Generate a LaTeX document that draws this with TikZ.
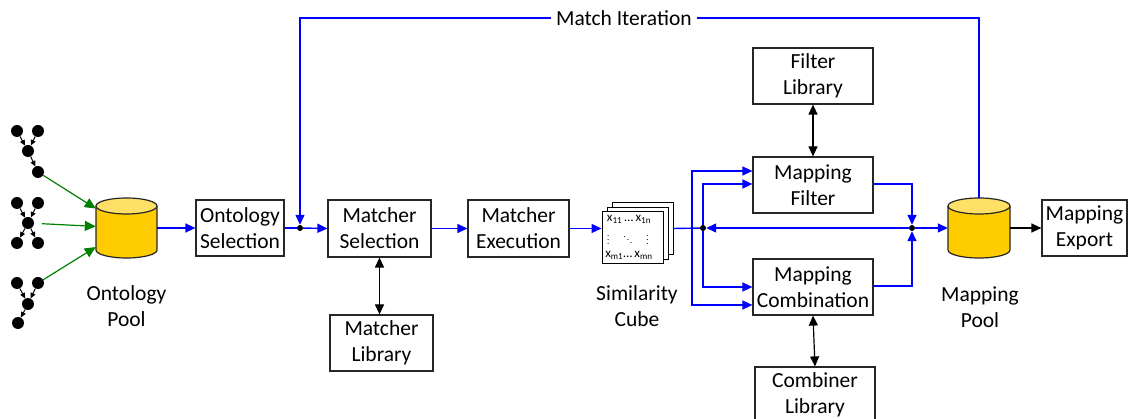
\documentclass[tikz,border=0pt]{standalone}
\usepackage{fontspec}
\setmainfont{Carlito}
\usetikzlibrary{arrows.meta,calc}
\definecolor{cylbody}{HTML}{FFCC00}
\definecolor{cyltop}{HTML}{FFE066}
\definecolor{dkgreen}{RGB}{0,128,0}
\newcommand\mycyl[4]{%
  \draw[fill=cylbody, draw=black!85, line width=1.2pt] (#1-#4,#2+8) -- (#1-#4,#3-8)
     arc[start angle=180,end angle=360,x radius=#4pt,y radius=8pt] -- (#1+#4,#2+8);
  \draw[fill=cyltop, draw=black!85, line width=1.2pt] (#1,#2+8) ellipse [x radius=#4pt, y radius=8pt];
}
\begin{document}
\begin{tikzpicture}[x=1pt,y=-1pt,
  box/.style={draw=black!85, line width=1.2pt, fill=white, align=center, font=\fontsize{21.5}{26}\selectfont, inner sep=0pt},
  lbl/.style={align=center, font=\fontsize{21.5}{26}\selectfont, inner sep=0pt},
  bl/.style={draw=blue, line width=1.4pt},
  bla/.style={bl, -{Triangle[length=10pt,width=9pt]}},
  blkd/.style={draw=black, line width=1.2pt, {Triangle[length=10pt,width=9pt]}-{Triangle[length=10pt,width=9pt]}},
  blks/.style={draw=black, line width=1.2pt, -{Triangle[length=10pt,width=9pt]}},
  gr/.style={draw=dkgreen, line width=1.2pt, -{Triangle[length=11pt,width=10pt]}},
  tn/.style={circle, fill=black, minimum size=12pt, inner sep=0pt},
  ta/.style={draw=black, line width=1pt, -{Triangle[length=5.5pt,width=5pt]}},
  jdot/.style={circle, fill=black, minimum size=6pt, inner sep=0pt},
  page/.style={draw=black, line width=1pt, fill=white, minimum width=61pt, minimum height=52pt, inner sep=0pt},
  small/.style={font=\fontsize{13}{15}\selectfont, inner sep=0pt},
]
\useasboundingbox (0,0) rectangle (1128,419);

% trees
\node[tn] (t1a) at (17,131) {};
\node[tn] (t1b) at (38,131) {};
\node[tn] (t1c) at (28,151) {};
\node[tn] (t1d) at (38,172) {};
\draw[ta] (t1a) -- (t1c);
\draw[ta] (t1b) -- (t1c);
\draw[ta] (t1c) -- (t1d);
\node[tn] (t2a) at (17,203) {};
\node[tn] (t2b) at (38,203) {};
\node[tn] (t2c) at (28,223) {};
\node[tn] (t2d) at (17,243) {};
\node[tn] (t2e) at (38,243) {};
\draw[ta] (t2a) -- (t2c);
\draw[ta] (t2b) -- (t2c);
\draw[ta] (t2c) -- (t2d);
\draw[ta] (t2c) -- (t2e);
\node[tn] (t3a) at (17,283) {};
\node[tn] (t3b) at (38,283) {};
\node[tn] (t3c) at (28,304) {};
\node[tn] (t3d) at (18,323) {};
\draw[ta] (t3a) -- (t3c);
\draw[ta] (t3b) -- (t3c);
\draw[ta] (t3c) -- (t3d);

% cylinders
\mycyl{126.5}{198}{258}{30.5}
\node[minimum width=61pt, minimum height=60pt, inner sep=0pt] (op) at (126.5,228) {};
\mycyl{979}{198}{258}{31}
\node[minimum width=62pt, minimum height=60pt, inner sep=0pt] (mp) at (979,228) {};
\node[lbl] (opl) at (126.5,306) {Ontology\\Pool};
\node[lbl] (mpl) at (980,307) {Mapping\\Pool};

\draw[gr] (t1d) -- (op);
\draw[gr, shorten <=8pt] (t2c) -- (op);
\draw[gr] (t3b) -- (op);

% boxes
\node[box, minimum width=88pt, minimum height=56pt] (os) at (240,228) {Ontology\\Selection};
\node[box, minimum width=103pt, minimum height=57pt] (ms) at (379.5,228.5) {Matcher\\Selection};
\node[box, minimum width=101pt, minimum height=57pt] (me) at (518.5,228.5) {Matcher\\Execution};
\node[box, minimum width=103pt, minimum height=56pt] (ml) at (381.5,343) {Matcher\\Library};
\node[box, minimum width=120pt, minimum height=56pt] (fl) at (813,76) {Filter\\Library};
\node[box, minimum width=120pt, minimum height=56pt] (mf) at (813,185) {Mapping\\Filter};
\node[box, minimum width=120pt, minimum height=56pt] (mc) at (813,287) {Mapping\\Combination};
\node[box, minimum width=120pt, minimum height=56pt] (cl) at (815,395) {Combiner\\Library};
\node[box, minimum width=85pt, minimum height=56pt] (mx) at (1084.5,228) {Mapping\\Export};

% similarity cube
\node[page] (cb2) at (642.5,228.5) {};
\node[page] (cb1) at (637.5,233.5) {};
\node[page] (cf) at (632.5,238) {};
\node[small] (r1) at (629,219) {x\textsubscript{11}\,…\,x\textsubscript{1n}};
\node[inner sep=0pt, font=\fontsize{9}{10}\selectfont] (r2) at (628,237) {$\vdots\hspace{12pt}\ddots\hspace{12pt}\vdots$};
\node[small] (r3) at (629,255) {x\textsubscript{m1}…\,x\textsubscript{mn}};
\node[lbl] (scl) at (637,306) {Similarity\\Cube};

% junction dots
\node[jdot] (d1) at (300,228) {};
\node[jdot] (d2) at (703,228) {};
\node[jdot] (d3) at (912,228) {};
\coordinate (s1) at (692,228);
\coordinate (mi1) at (979,18);
\coordinate (mi2) at (300,18);

% connectors
\draw[bla] (op.east) -- (os.west);
\draw[bl] (os.east) -- (d1);
\draw[bla] (d1) -- (ms.west);
\draw[blkd] (ms.south) -- (ms.south |- ml.north);
\draw[bla] (ms.east) -- (me.west);
\draw[bla] (me.east) -- (me.east -| cf.west);
\draw[bl] (cb2.east) -- (d2);
\draw[bla] (s1) |- ($(mf.west)+(0,-14)$);
\draw[bla] (s1) |- ($(mc.west)+(0,18)$);
\draw[bla] (d2) |- ($(mf.west)+(0,-1)$);
\draw[bla] (d2) |- (mc.west);
\draw[blkd] (fl.south) -- (mf.north);
\draw[blkd] (mc.south) -- (cl.north);
\draw[bla] ($(mf.east)+(0,-1)$) -| (d3);
\draw[bla] ($(mc.east)+(0,-1)$) -| (d3);
\draw[bla] (d3) -- (d2);
\draw[bla] (d3) -- (mp.west);
\draw[blks] (mp.east) -- (mx.west);
\draw[bla] (mp.north) -- (mi1) -- node[pos=0.523, fill=white, lbl, inner xsep=5pt] (mit) {Match Iteration} (mi2) -- (d1);
\end{tikzpicture}
\end{document}
